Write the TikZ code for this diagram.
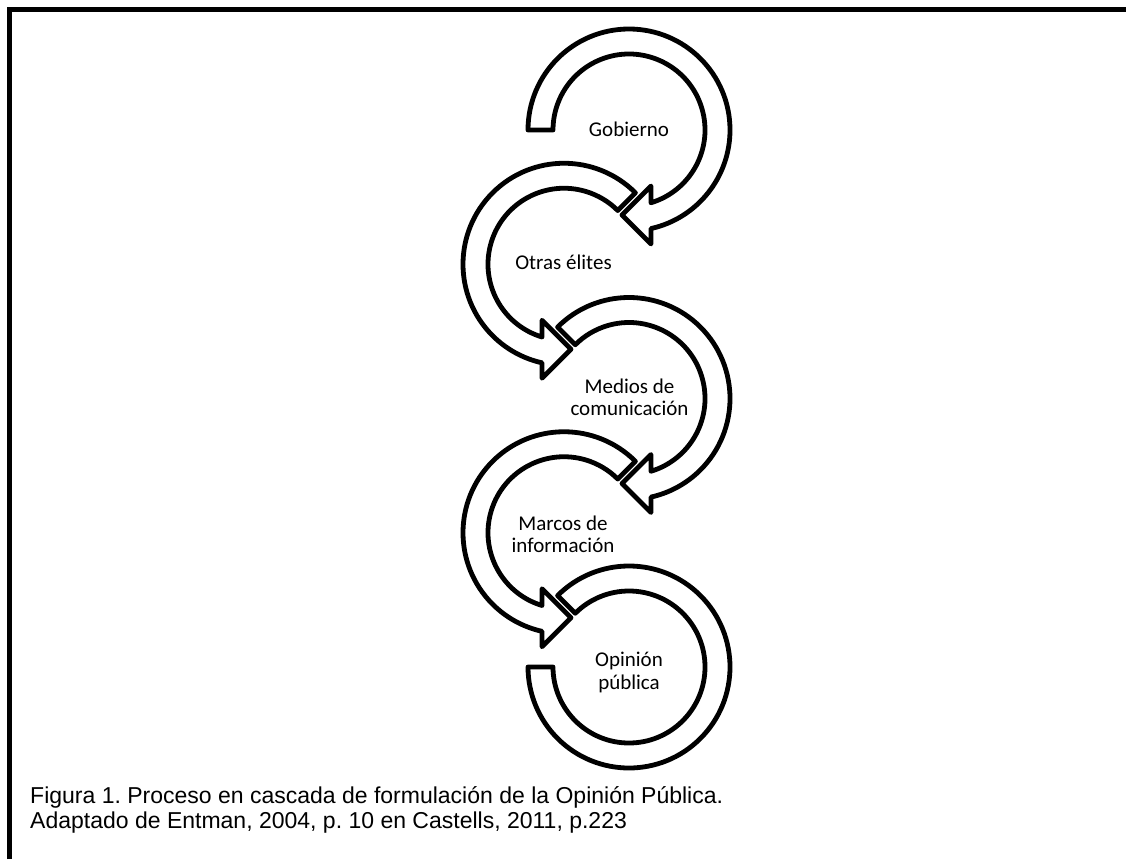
\documentclass[tikz,border=0pt]{standalone}
\usepackage{fontspec}
\newfontfamily\lblfont{Carlito}
\newfontfamily\capfont{Liberation Sans}
\frenchspacing
\newcommand{\rOut}{101}
\newcommand{\rIn}{76}
% clockwise circular arrow, tail at angle #1, head near the bottom
\newcommand{\cwArrowShape}[1]{%
  \draw[band] (#1:\rOut) arc[start angle=#1, end angle=-77.4, radius=\rOut]
    -- (22,-114) -- (-7,-85) -- (22,-56) -- (-73.2:\rIn)
    arc[start angle=-73.2, end angle=#1, radius=\rIn] -- cycle;}
\begin{document}
\begin{tikzpicture}[x=1pt,y=1pt,
  band/.style={draw=black, fill=white, line width=4.8pt, line join=round},
  lbl/.style={font=\lblfont\fontsize{21}{22.5}\selectfont, inner sep=0pt, anchor=base},
  captxt/.style={font=\capfont\fontsize{23}{25}\selectfont, inner sep=0pt, anchor=base west},
]
\useasboundingbox (0,0) rectangle (1126,-859);
\fill[white] (0,0) rectangle (1126,-859);
\draw[line width=5pt, line join=miter] (9.5,-859) -- (9.5,-9.5) -- (1126,-9.5);

% arrows
\begin{scope}[shift={(629,-130)}]
  \cwArrowShape{180}
\end{scope}
\begin{scope}[shift={(564,-264.25)}, xscale=-1]
  \cwArrowShape{135}
\end{scope}
\begin{scope}[shift={(629,-398.5)}]
  \cwArrowShape{135}
\end{scope}
\begin{scope}[shift={(564,-532.75)}, xscale=-1]
  \cwArrowShape{135}
\end{scope}
\begin{scope}[shift={(629,-667)}]
  \draw[band] (135:\rOut) arc[start angle=135, end angle=-180, radius=\rOut]
    -- (180:\rIn) arc[start angle=-180, end angle=135, radius=\rIn] -- cycle;
\end{scope}

% labels
\node[lbl] (gob) at (629,-136) {Gobierno};
\node[lbl] (otr) at (563.5,-269.3) {Otras élites};
\node[lbl] (med) at (629.5,-393) {\begin{tabular}[t]{@{}c@{}}Medios de\\comunicación\end{tabular}};
\node[lbl] (mar) at (563,-530) {\begin{tabular}[t]{@{}c@{}}Marcos de\\información\end{tabular}};
\node[lbl] (opi) at (629,-666.7) {\begin{tabular}[t]{@{}c@{}}Opinión\\pública\end{tabular}};

% caption
\node[captxt] (cap) at (30,-803.3) {\begin{tabular}[t]{@{}l@{}}Figura 1. Proceso en cascada de formulación de la Opinión Pública.\\Adaptado de Entman, 2004, p. 10 en Castells, 2011, p.223\end{tabular}};
\end{tikzpicture}
\end{document}
